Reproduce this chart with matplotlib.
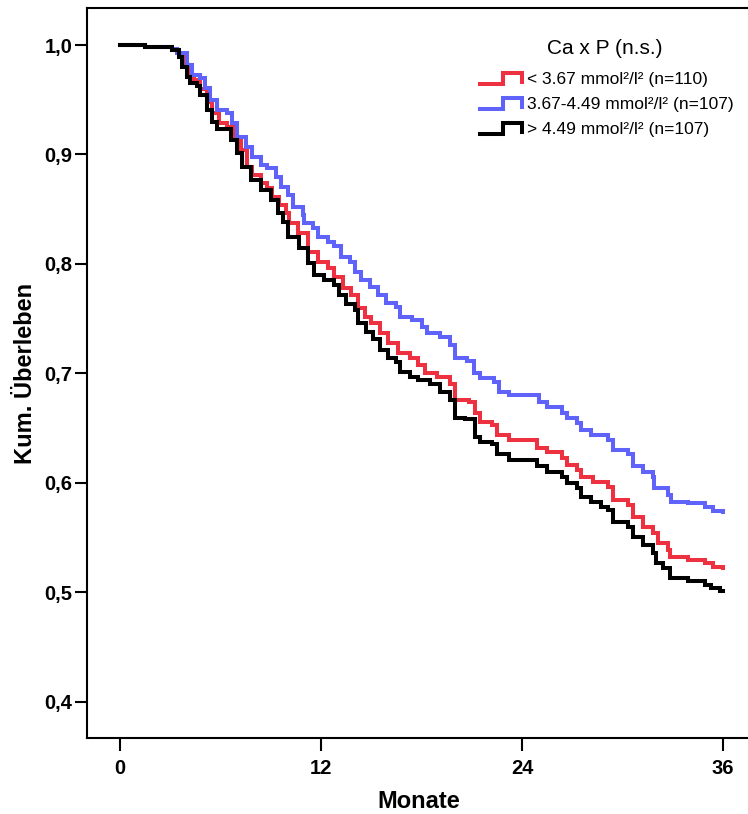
import numpy as np
import matplotlib
matplotlib.use("Agg")
import matplotlib.pyplot as plt
from matplotlib.legend_handler import HandlerBase
from matplotlib.lines import Line2D

# Kaplan-Meier Schätzer, Monate / kumulatives Überleben
t_low = [0, 1.5, 3.1, 3.5, 3.8, 4.1, 4.4, 4.8, 5.2, 5.5, 5.9, 6.4, 6.8, 7.2, 7.6, 7.9,
         8.4, 8.8, 9.1, 9.5, 9.9, 10.1, 10.6, 11.2, 11.8, 12.4, 12.8, 13.3, 13.8, 14.2,
         14.6, 15.0, 15.5, 16.0, 16.6, 17.3, 17.8, 18.2, 18.9, 19.7, 20.0, 20.8, 21.2,
         21.5, 22.2, 22.5, 23.2, 24.9, 25.5, 26.4, 26.7, 27.3, 27.5, 28.2, 29.1, 29.4,
         30.3, 30.6, 31.2, 31.8, 32.1, 32.7, 32.8, 33.9, 34.9, 35.4, 36.0]
s_low = [1.0, 0.998, 0.995, 0.990, 0.982, 0.973, 0.968, 0.960, 0.948, 0.938, 0.929, 0.925,
         0.916, 0.904, 0.889, 0.881, 0.874, 0.869, 0.861, 0.854, 0.847, 0.837, 0.828,
         0.811, 0.802, 0.796, 0.788, 0.778, 0.772, 0.760, 0.752, 0.746, 0.737, 0.728,
         0.719, 0.714, 0.708, 0.700, 0.697, 0.690, 0.676, 0.674, 0.664, 0.656, 0.653,
         0.644, 0.639, 0.632, 0.628, 0.623, 0.616, 0.612, 0.605, 0.601, 0.596, 0.584,
         0.580, 0.569, 0.560, 0.554, 0.545, 0.539, 0.532, 0.530, 0.527, 0.523, 0.522]

t_mid = [0, 1.5, 3.1, 3.4, 4.0, 4.3, 4.8, 5.1, 5.4, 5.8, 6.4, 6.7, 7.0, 7.5, 7.9, 8.4,
         8.8, 9.3, 9.6, 10.0, 10.3, 10.9, 11.0, 11.5, 11.8, 12.4, 12.8, 13.2, 13.7, 14.0,
         14.4, 14.9, 15.4, 15.9, 16.5, 16.7, 17.4, 18.0, 18.3, 19.1, 19.7, 20.0, 20.7,
         21.1, 21.5, 22.3, 22.6, 23.2, 25.0, 25.5, 26.4, 26.7, 27.3, 27.5, 28.1, 29.1,
         29.4, 30.3, 30.6, 31.2, 31.8, 31.9, 32.7, 32.9, 33.9, 34.9, 35.4, 36.0]
s_mid = [1.0, 0.998, 0.996, 0.993, 0.982, 0.973, 0.970, 0.961, 0.950, 0.941, 0.938, 0.929,
         0.916, 0.907, 0.898, 0.890, 0.888, 0.879, 0.870, 0.863, 0.852, 0.845, 0.837,
         0.833, 0.825, 0.820, 0.816, 0.806, 0.802, 0.793, 0.785, 0.779, 0.772, 0.764,
         0.761, 0.752, 0.749, 0.742, 0.737, 0.733, 0.726, 0.714, 0.711, 0.700, 0.696,
         0.692, 0.683, 0.680, 0.674, 0.669, 0.664, 0.659, 0.655, 0.648, 0.644, 0.639,
         0.630, 0.626, 0.615, 0.610, 0.605, 0.595, 0.589, 0.583, 0.582, 0.578, 0.574, 0.573]

t_high = [0, 1.5, 3.1, 3.5, 3.7, 4.0, 4.2, 4.6, 4.8, 5.2, 5.5, 5.8, 6.6, 7.0, 7.3, 7.8,
          8.4, 9.0, 9.4, 9.7, 10.0, 10.7, 11.2, 11.6, 12.2, 12.8, 13.1, 13.5, 14.0, 14.2,
          14.7, 15.1, 15.5, 16.0, 16.5, 16.7, 17.3, 17.8, 18.5, 19.1, 19.7, 20.0, 20.6,
          21.2, 21.5, 22.2, 22.5, 23.2, 24.9, 25.5, 26.4, 26.7, 27.3, 27.5, 28.1, 28.7,
          29.1, 29.4, 30.3, 30.6, 31.2, 31.8, 32.0, 32.4, 32.8, 33.9, 34.9, 35.3, 35.8, 36.0]
s_high = [1.0, 0.998, 0.995, 0.989, 0.980, 0.971, 0.965, 0.963, 0.954, 0.941, 0.930, 0.923,
          0.913, 0.901, 0.889, 0.877, 0.868, 0.858, 0.847, 0.838, 0.825, 0.815, 0.801,
          0.790, 0.785, 0.781, 0.772, 0.763, 0.758, 0.746, 0.738, 0.731, 0.721, 0.714,
          0.710, 0.701, 0.697, 0.694, 0.690, 0.683, 0.676, 0.659, 0.658, 0.642, 0.637,
          0.636, 0.626, 0.621, 0.615, 0.610, 0.605, 0.600, 0.595, 0.587, 0.583, 0.578,
          0.575, 0.564, 0.560, 0.551, 0.543, 0.536, 0.527, 0.522, 0.513, 0.510, 0.507,
          0.504, 0.501, 0.501]

labels = ["< 3.67 mmol²/l² (n=110)", "3.67-4.49 mmol²/l² (n=107)", "> 4.49 mmol²/l² (n=107)"]
colors = ["#ee3140", "#5f63fa", "#000000"]
x_ticks = [0, 12, 24, 36]
y_ticks = [0.4, 0.5, 0.6, 0.7, 0.8, 0.9, 1.0]


class StepHandler(HandlerBase):
    # Legendensymbol als kleine Treppe wie im SPSS-Plot
    def create_artists(self, legend, orig_handle, xdescent, ydescent, width, height, fontsize, trans):
        x0, y0 = -xdescent, -ydescent
        xs = [x0, x0 + .55 * width, x0 + .55 * width, x0 + width, x0 + width]
        ys = [y0 + .05 * height, y0 + .05 * height, y0 + .95 * height, y0 + .95 * height, y0 + .2 * height]
        ln = Line2D(xs, ys, color=orig_handle.get_color(), lw=orig_handle.get_linewidth(),
                    solid_joinstyle="miter", transform=trans)
        return [ln]


plt.rcParams.update({"font.family": ["Liberation Sans", "DejaVu Sans"]})

fig = plt.figure(figsize=(7.48, 8.14), dpi=100)
ax = fig.add_axes([87 / 748, 1 - 738 / 814, 663 / 748, 730 / 814])

handles = []
for t, s, c, lab in zip([t_low, t_mid, t_high], [s_low, s_mid, s_high], colors, labels):
    h, = ax.plot(t, s, drawstyle="steps-post", color=c, lw=2.9, label=lab,
                 solid_joinstyle="miter")
    handles.append(h)

ax.set_xlim(-1.97, 37.6)
ax.set_ylim(0.367, 1.0338)
ax.set_xticks(x_ticks)
ax.set_yticks(y_ticks)
ax.set_yticklabels([f"{v:.1f}".replace(".", ",") for v in y_ticks])
ax.tick_params(axis="both", width=1.5, labelsize=14.5, direction="out")
ax.tick_params(axis="y", length=9, pad=1.5)
ax.tick_params(axis="x", length=9.5, pad=5.5)
for lb in ax.get_xticklabels() + ax.get_yticklabels():
    lb.set_fontweight("bold")
for sp in ["left", "bottom", "top"]:
    ax.spines[sp].set_linewidth(1.5)
ax.spines["right"].set_visible(False)

ax.set_xlabel("Monate", fontsize=17, fontweight="bold", labelpad=9)
ax.set_ylabel("Kum. Überleben", fontsize=17, fontweight="bold", labelpad=5)

ax.text(605 / 748, 1 - 48 / 814, "Ca x P (n.s.)", fontsize=15, ha="center", va="center",
        transform=fig.transFigure)
ax.legend(handles=handles, handler_map={Line2D: StepHandler()},
          fontsize=12.5, frameon=False, loc="upper left",
          bbox_to_anchor=(0.593, 0.912), borderpad=0, borderaxespad=0, handlelength=2.4,
          handletextpad=0.3, labelspacing=0.56)

fig.savefig("out.png", dpi=100)
